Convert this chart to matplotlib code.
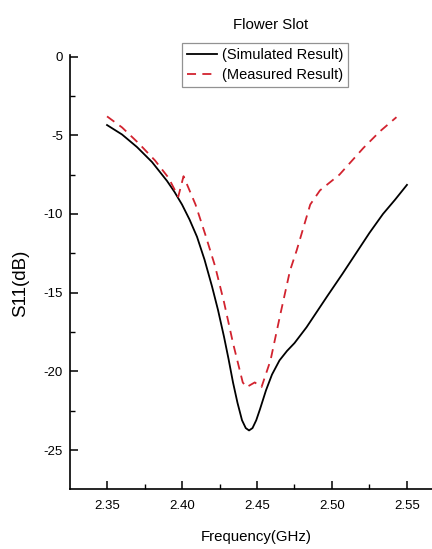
import numpy as np
import matplotlib.pyplot as plt
from matplotlib.ticker import MultipleLocator

# S11 of the flower-slot antenna, simulated vs measured
sim_freq = [2.350, 2.360, 2.370, 2.380, 2.390, 2.395, 2.400, 2.405, 2.410,
            2.415, 2.420, 2.424, 2.428, 2.431, 2.434, 2.437, 2.440, 2.4425,
            2.4447, 2.447, 2.4495, 2.452, 2.456, 2.460, 2.465, 2.470, 2.475,
            2.483, 2.490, 2.497, 2.507, 2.516, 2.525, 2.534, 2.542, 2.550]
sim_s11 = [-4.35, -4.95, -5.75, -6.7, -7.9, -8.6, -9.4, -10.35, -11.45,
           -12.9, -14.6, -16.1, -17.8, -19.2, -20.7, -22.0, -23.1, -23.6,
           -23.75, -23.6, -23.1, -22.4, -21.2, -20.2, -19.3, -18.7, -18.2,
           -17.2, -16.2, -15.2, -13.8, -12.5, -11.2, -10.0, -9.1, -8.15]

meas_freq = [2.350, 2.360, 2.371, 2.382, 2.391, 2.3975, 2.401, 2.409, 2.4155,
             2.422, 2.428, 2.434, 2.4405, 2.443, 2.4485, 2.453, 2.459, 2.4655,
             2.472, 2.4765, 2.4855, 2.492, 2.505, 2.521, 2.532, 2.543]
meas_s11 = [-3.8, -4.5, -5.5, -6.6, -7.7, -8.9, -7.6, -9.4, -11.3,
            -13.3, -15.6, -18.2, -20.7, -21.0, -20.7, -21.0, -19.3, -16.4,
            -13.6, -12.3, -9.4, -8.5, -7.5, -5.8, -4.75, -3.85]

xticks = [2.35, 2.40, 2.45, 2.50, 2.55]
yticks = [0, -5, -10, -15, -20, -25]

plt.rcParams['font.family'] = ['Liberation Sans', 'DejaVu Sans']
plt.rcParams['axes.unicode_minus'] = False

W, H = 432, 549
fig = plt.figure(figsize=(W / 100, H / 100), dpi=100)
ax = fig.add_axes([70 / W, 1 - 489 / H, (W - 70) / W, (489 - 55) / H])

ax.plot(sim_freq, sim_s11, color='black', lw=1.3, label='(Simulated Result)')
ax.plot(meas_freq, meas_s11, color='#d2232f', lw=1.3, ls=(0, (5, 3.5)),
        label='(Measured Result)')

ax.set_xlim(2.3253, 2.5667)
ax.set_ylim(-27.47, 0.1)
ax.set_xticks(xticks)
ax.set_xticklabels(['%.2f' % t for t in xticks])
ax.set_yticks(yticks)
ax.xaxis.set_minor_locator(MultipleLocator(0.025))
ax.yaxis.set_minor_locator(MultipleLocator(2.5))

for s in ['top', 'right']:
    ax.spines[s].set_visible(False)
for s in ['left', 'bottom']:
    ax.spines[s].set_linewidth(1.2)

ax.tick_params(which='major', direction='in', length=6, width=1.1,
               labelsize=9.5, pad=5)
ax.tick_params(which='minor', direction='in', length=3.5, width=1.0)
ax.tick_params(axis='x', which='major', pad=8)

leg = ax.legend(loc='upper left', bbox_to_anchor=(182 / W, 1 - 43 / H),
                bbox_transform=fig.transFigure, borderaxespad=0,
                fontsize=10.5, frameon=True, fancybox=False,
                handlelength=2.05, handletextpad=0.3, borderpad=0.36,
                labelspacing=0.4)
leg.get_frame().set_edgecolor('#777777')
leg.get_frame().set_linewidth(0.9)

fig.text(271 / W, 1 - 25 / H, 'Flower Slot', ha='center', va='center',
         fontsize=10.8)
fig.text(256 / W, 1 - 537 / H, 'Frequency(GHz)', ha='center', va='center',
         fontsize=10.8)
fig.text(21 / W, 1 - 283 / H, 'S11(dB)', ha='center', va='center',
         rotation=90, fontsize=13.5)

fig.savefig('out.png', dpi=100)
